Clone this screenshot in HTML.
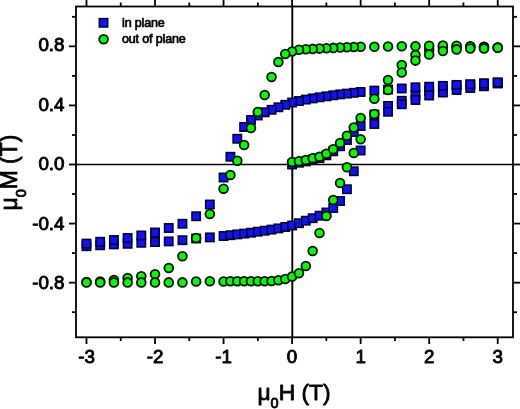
<!DOCTYPE html>
<html><head><meta charset="utf-8"><title>Hysteresis</title>
<style>
html,body{margin:0;padding:0;background:#fff;}
body{width:520px;height:409px;overflow:hidden;}
svg{display:block;font-family:"Liberation Sans",sans-serif;}
.tl text{font-size:18.8px;fill:#000;stroke:#000;stroke-width:0.9px;stroke-linejoin:round;}
.ax{font-size:22.8px;fill:#000;stroke:#000;stroke-width:0.8px;stroke-linejoin:round;}
.lg text{font-size:12.5px;fill:#000;stroke:#000;stroke-width:0.7px;stroke-linejoin:round;letter-spacing:-0.15px;}
</style></head><body>
<svg width="520" height="409" viewBox="0 0 520 409">
<rect x="0" y="0" width="520" height="409" fill="#fff"/>
<g stroke="#000" fill="none">
<line x1="76" y1="164.5" x2="513" y2="164.5" stroke-width="1.6"/>
<line x1="292.3" y1="6.5" x2="292.3" y2="337" stroke-width="1.9"/>
</g>
<g fill="#1212ee" stroke="#000030" stroke-width="1.5"><rect x="287.90" y="160.30" width="8.4" height="8.4"/><rect x="294.75" y="158.50" width="8.4" height="8.4"/><rect x="301.61" y="157.20" width="8.4" height="8.4"/><rect x="308.46" y="155.40" width="8.4" height="8.4"/><rect x="315.32" y="153.90" width="8.4" height="8.4"/><rect x="322.17" y="151.10" width="8.4" height="8.4"/><rect x="329.02" y="147.10" width="8.4" height="8.4"/><rect x="335.88" y="142.10" width="8.4" height="8.4"/><rect x="342.73" y="135.80" width="8.4" height="8.4"/><rect x="349.59" y="127.80" width="8.4" height="8.4"/><rect x="356.44" y="121.80" width="8.4" height="8.4"/><rect x="370.15" y="110.30" width="8.4" height="8.4"/><rect x="383.86" y="101.80" width="8.4" height="8.4"/><rect x="397.56" y="96.55" width="8.4" height="8.4"/><rect x="411.27" y="90.80" width="8.4" height="8.4"/><rect x="424.98" y="86.80" width="8.4" height="8.4"/><rect x="438.69" y="84.30" width="8.4" height="8.4"/><rect x="452.40" y="81.80" width="8.4" height="8.4"/><rect x="466.10" y="80.30" width="8.4" height="8.4"/><rect x="479.81" y="79.30" width="8.4" height="8.4"/><rect x="493.52" y="78.30" width="8.4" height="8.4"/><rect x="82.28" y="242.00" width="8.4" height="8.4"/><rect x="95.99" y="241.10" width="8.4" height="8.4"/><rect x="109.70" y="240.20" width="8.4" height="8.4"/><rect x="123.40" y="239.60" width="8.4" height="8.4"/><rect x="137.11" y="238.60" width="8.4" height="8.4"/><rect x="150.82" y="237.80" width="8.4" height="8.4"/><rect x="164.53" y="237.20" width="8.4" height="8.4"/><rect x="178.24" y="236.00" width="8.4" height="8.4"/><rect x="191.94" y="234.30" width="8.4" height="8.4"/><rect x="205.65" y="233.20" width="8.4" height="8.4"/><rect x="219.36" y="231.80" width="8.4" height="8.4"/><rect x="226.21" y="231.00" width="8.4" height="8.4"/><rect x="233.07" y="230.20" width="8.4" height="8.4"/><rect x="239.92" y="229.40" width="8.4" height="8.4"/><rect x="246.78" y="228.50" width="8.4" height="8.4"/><rect x="253.63" y="227.50" width="8.4" height="8.4"/><rect x="260.48" y="226.50" width="8.4" height="8.4"/><rect x="267.34" y="225.40" width="8.4" height="8.4"/><rect x="274.19" y="224.20" width="8.4" height="8.4"/><rect x="281.05" y="222.80" width="8.4" height="8.4"/><rect x="287.90" y="221.30" width="8.4" height="8.4"/><rect x="294.75" y="219.00" width="8.4" height="8.4"/><rect x="301.61" y="216.50" width="8.4" height="8.4"/><rect x="308.46" y="214.00" width="8.4" height="8.4"/><rect x="315.32" y="211.50" width="8.4" height="8.4"/><rect x="322.17" y="208.30" width="8.4" height="8.4"/><rect x="329.02" y="203.80" width="8.4" height="8.4"/><rect x="335.88" y="196.80" width="8.4" height="8.4"/><rect x="342.73" y="185.05" width="8.4" height="8.4"/><rect x="349.59" y="167.05" width="8.4" height="8.4"/><rect x="356.44" y="146.30" width="8.4" height="8.4"/><rect x="370.15" y="119.80" width="8.4" height="8.4"/><rect x="383.86" y="107.55" width="8.4" height="8.4"/><rect x="397.56" y="100.05" width="8.4" height="8.4"/><rect x="411.27" y="95.80" width="8.4" height="8.4"/><rect x="424.98" y="91.30" width="8.4" height="8.4"/><rect x="438.69" y="88.30" width="8.4" height="8.4"/><rect x="452.40" y="85.80" width="8.4" height="8.4"/><rect x="466.10" y="83.80" width="8.4" height="8.4"/><rect x="479.81" y="82.05" width="8.4" height="8.4"/><rect x="493.52" y="79.30" width="8.4" height="8.4"/><rect x="493.52" y="78.30" width="8.4" height="8.4"/><rect x="479.81" y="79.20" width="8.4" height="8.4"/><rect x="466.10" y="80.10" width="8.4" height="8.4"/><rect x="452.40" y="80.70" width="8.4" height="8.4"/><rect x="438.69" y="81.70" width="8.4" height="8.4"/><rect x="424.98" y="82.50" width="8.4" height="8.4"/><rect x="411.27" y="83.10" width="8.4" height="8.4"/><rect x="397.56" y="84.30" width="8.4" height="8.4"/><rect x="383.86" y="85.30" width="8.4" height="8.4"/><rect x="370.15" y="86.40" width="8.4" height="8.4"/><rect x="356.44" y="87.80" width="8.4" height="8.4"/><rect x="349.59" y="88.60" width="8.4" height="8.4"/><rect x="342.73" y="89.40" width="8.4" height="8.4"/><rect x="335.88" y="90.20" width="8.4" height="8.4"/><rect x="329.02" y="91.10" width="8.4" height="8.4"/><rect x="322.17" y="92.10" width="8.4" height="8.4"/><rect x="315.32" y="93.10" width="8.4" height="8.4"/><rect x="308.46" y="94.20" width="8.4" height="8.4"/><rect x="301.61" y="95.40" width="8.4" height="8.4"/><rect x="294.75" y="96.80" width="8.4" height="8.4"/><rect x="287.90" y="98.30" width="8.4" height="8.4"/><rect x="281.05" y="100.60" width="8.4" height="8.4"/><rect x="274.19" y="103.10" width="8.4" height="8.4"/><rect x="267.34" y="105.60" width="8.4" height="8.4"/><rect x="260.48" y="108.10" width="8.4" height="8.4"/><rect x="253.63" y="111.30" width="8.4" height="8.4"/><rect x="246.78" y="115.80" width="8.4" height="8.4"/><rect x="239.92" y="122.80" width="8.4" height="8.4"/><rect x="233.07" y="134.55" width="8.4" height="8.4"/><rect x="226.21" y="152.55" width="8.4" height="8.4"/><rect x="219.36" y="173.30" width="8.4" height="8.4"/><rect x="205.65" y="200.30" width="8.4" height="8.4"/><rect x="191.94" y="212.05" width="8.4" height="8.4"/><rect x="178.24" y="219.55" width="8.4" height="8.4"/><rect x="164.53" y="223.80" width="8.4" height="8.4"/><rect x="150.82" y="228.30" width="8.4" height="8.4"/><rect x="137.11" y="231.30" width="8.4" height="8.4"/><rect x="123.40" y="233.80" width="8.4" height="8.4"/><rect x="109.70" y="235.80" width="8.4" height="8.4"/><rect x="95.99" y="237.55" width="8.4" height="8.4"/><rect x="82.28" y="239.40" width="8.4" height="8.4"/></g>
<g fill="#14f014" stroke="#001800" stroke-width="1.8"><circle cx="292.10" cy="162.00" r="4.4"/><circle cx="298.95" cy="161.25" r="4.4"/><circle cx="305.81" cy="160.00" r="4.4"/><circle cx="312.66" cy="158.25" r="4.4"/><circle cx="319.52" cy="156.75" r="4.4"/><circle cx="326.37" cy="153.75" r="4.4"/><circle cx="333.22" cy="149.25" r="4.4"/><circle cx="340.08" cy="143.00" r="4.4"/><circle cx="346.93" cy="135.75" r="4.4"/><circle cx="353.79" cy="127.50" r="4.4"/><circle cx="360.64" cy="118.00" r="4.4"/><circle cx="374.35" cy="98.75" r="4.4"/><circle cx="388.06" cy="80.00" r="4.4"/><circle cx="401.76" cy="65.00" r="4.4"/><circle cx="415.47" cy="55.00" r="4.4"/><circle cx="429.18" cy="50.00" r="4.4"/><circle cx="442.89" cy="47.50" r="4.4"/><circle cx="456.60" cy="46.80" r="4.4"/><circle cx="470.30" cy="46.80" r="4.4"/><circle cx="484.01" cy="47.00" r="4.4"/><circle cx="497.72" cy="47.50" r="4.4"/><circle cx="497.72" cy="47.50" r="4.4"/><circle cx="484.01" cy="46.80" r="4.4"/><circle cx="470.30" cy="46.30" r="4.4"/><circle cx="456.60" cy="45.80" r="4.4"/><circle cx="442.89" cy="45.50" r="4.4"/><circle cx="429.18" cy="45.80" r="4.4"/><circle cx="415.47" cy="46.20" r="4.4"/><circle cx="401.76" cy="46.30" r="4.4"/><circle cx="388.06" cy="46.50" r="4.4"/><circle cx="374.35" cy="46.70" r="4.4"/><circle cx="360.64" cy="46.80" r="4.4"/><circle cx="353.79" cy="47.00" r="4.4"/><circle cx="346.93" cy="47.20" r="4.4"/><circle cx="340.08" cy="47.50" r="4.4"/><circle cx="333.22" cy="47.90" r="4.4"/><circle cx="326.37" cy="48.30" r="4.4"/><circle cx="319.52" cy="48.60" r="4.4"/><circle cx="312.66" cy="48.90" r="4.4"/><circle cx="305.81" cy="49.20" r="4.4"/><circle cx="298.95" cy="49.70" r="4.4"/><circle cx="292.10" cy="51.50" r="4.4"/><circle cx="285.25" cy="54.00" r="4.4"/><circle cx="278.39" cy="62.00" r="4.4"/><circle cx="271.54" cy="77.00" r="4.4"/><circle cx="264.68" cy="95.00" r="4.4"/><circle cx="257.83" cy="112.00" r="4.4"/><circle cx="250.98" cy="128.00" r="4.4"/><circle cx="244.12" cy="145.00" r="4.4"/><circle cx="237.27" cy="160.75" r="4.4"/><circle cx="230.41" cy="175.00" r="4.4"/><circle cx="223.56" cy="188.75" r="4.4"/><circle cx="209.85" cy="214.00" r="4.4"/><circle cx="196.14" cy="238.00" r="4.4"/><circle cx="182.44" cy="256.25" r="4.4"/><circle cx="168.73" cy="268.00" r="4.4"/><circle cx="155.02" cy="274.25" r="4.4"/><circle cx="141.31" cy="276.25" r="4.4"/><circle cx="127.60" cy="278.00" r="4.4"/><circle cx="113.90" cy="280.00" r="4.4"/><circle cx="100.19" cy="281.50" r="4.4"/><circle cx="86.48" cy="282.00" r="4.4"/><circle cx="86.48" cy="282.40" r="4.4"/><circle cx="100.19" cy="282.40" r="4.4"/><circle cx="113.90" cy="282.40" r="4.4"/><circle cx="127.60" cy="282.40" r="4.4"/><circle cx="141.31" cy="282.40" r="4.4"/><circle cx="155.02" cy="282.40" r="4.4"/><circle cx="168.73" cy="282.40" r="4.4"/><circle cx="182.44" cy="282.40" r="4.4"/><circle cx="196.14" cy="281.50" r="4.4"/><circle cx="209.85" cy="281.30" r="4.4"/><circle cx="223.56" cy="281.50" r="4.4"/><circle cx="230.41" cy="281.30" r="4.4"/><circle cx="237.27" cy="281.30" r="4.4"/><circle cx="244.12" cy="281.30" r="4.4"/><circle cx="250.98" cy="281.30" r="4.4"/><circle cx="257.83" cy="281.30" r="4.4"/><circle cx="264.68" cy="281.30" r="4.4"/><circle cx="271.54" cy="281.00" r="4.4"/><circle cx="278.39" cy="280.20" r="4.4"/><circle cx="285.25" cy="279.00" r="4.4"/><circle cx="292.10" cy="276.60" r="4.4"/><circle cx="298.95" cy="273.20" r="4.4"/><circle cx="305.81" cy="266.00" r="4.4"/><circle cx="312.66" cy="251.00" r="4.4"/><circle cx="319.52" cy="233.00" r="4.4"/><circle cx="326.37" cy="216.00" r="4.4"/><circle cx="333.22" cy="200.00" r="4.4"/><circle cx="340.08" cy="183.00" r="4.4"/><circle cx="346.93" cy="167.25" r="4.4"/><circle cx="353.79" cy="153.00" r="4.4"/><circle cx="360.64" cy="139.25" r="4.4"/><circle cx="374.35" cy="114.00" r="4.4"/><circle cx="388.06" cy="90.00" r="4.4"/><circle cx="401.76" cy="72.50" r="4.4"/><circle cx="415.47" cy="60.60" r="4.4"/><circle cx="429.18" cy="54.40" r="4.4"/><circle cx="442.89" cy="51.00" r="4.4"/><circle cx="456.60" cy="49.40" r="4.4"/><circle cx="470.30" cy="48.50" r="4.4"/><circle cx="484.01" cy="48.40" r="4.4"/><circle cx="497.72" cy="47.75" r="4.4"/></g>
<g stroke="#000" stroke-width="1.8" fill="none">
<rect x="76" y="6.5" width="437" height="330.8"/>
<line x1="86.48" y1="337" x2="86.48" y2="344"/><line x1="86.48" y1="6.5" x2="86.48" y2="0"/><line x1="155.02" y1="337" x2="155.02" y2="344"/><line x1="155.02" y1="6.5" x2="155.02" y2="0"/><line x1="223.56" y1="337" x2="223.56" y2="344"/><line x1="223.56" y1="6.5" x2="223.56" y2="0"/><line x1="292.10" y1="337" x2="292.10" y2="344"/><line x1="292.10" y1="6.5" x2="292.10" y2="0"/><line x1="360.64" y1="337" x2="360.64" y2="344"/><line x1="360.64" y1="6.5" x2="360.64" y2="0"/><line x1="429.18" y1="337" x2="429.18" y2="344"/><line x1="429.18" y1="6.5" x2="429.18" y2="0"/><line x1="497.72" y1="337" x2="497.72" y2="344"/><line x1="497.72" y1="6.5" x2="497.72" y2="0"/><line x1="120.75" y1="337" x2="120.75" y2="341"/><line x1="120.75" y1="6.5" x2="120.75" y2="2.5"/><line x1="189.29" y1="337" x2="189.29" y2="341"/><line x1="189.29" y1="6.5" x2="189.29" y2="2.5"/><line x1="257.83" y1="337" x2="257.83" y2="341"/><line x1="257.83" y1="6.5" x2="257.83" y2="2.5"/><line x1="326.37" y1="337" x2="326.37" y2="341"/><line x1="326.37" y1="6.5" x2="326.37" y2="2.5"/><line x1="394.91" y1="337" x2="394.91" y2="341"/><line x1="394.91" y1="6.5" x2="394.91" y2="2.5"/><line x1="463.45" y1="337" x2="463.45" y2="341"/><line x1="463.45" y1="6.5" x2="463.45" y2="2.5"/><line x1="76" y1="46.34" x2="69" y2="46.34"/><line x1="513" y1="46.34" x2="520" y2="46.34"/><line x1="76" y1="105.42" x2="69" y2="105.42"/><line x1="513" y1="105.42" x2="520" y2="105.42"/><line x1="76" y1="164.50" x2="69" y2="164.50"/><line x1="513" y1="164.50" x2="520" y2="164.50"/><line x1="76" y1="223.58" x2="69" y2="223.58"/><line x1="513" y1="223.58" x2="520" y2="223.58"/><line x1="76" y1="282.66" x2="69" y2="282.66"/><line x1="513" y1="282.66" x2="520" y2="282.66"/><line x1="76" y1="16.80" x2="72" y2="16.80"/><line x1="513" y1="16.80" x2="517" y2="16.80"/><line x1="76" y1="75.88" x2="72" y2="75.88"/><line x1="513" y1="75.88" x2="517" y2="75.88"/><line x1="76" y1="134.96" x2="72" y2="134.96"/><line x1="513" y1="134.96" x2="517" y2="134.96"/><line x1="76" y1="194.04" x2="72" y2="194.04"/><line x1="513" y1="194.04" x2="517" y2="194.04"/><line x1="76" y1="253.12" x2="72" y2="253.12"/><line x1="513" y1="253.12" x2="517" y2="253.12"/><line x1="76" y1="312.20" x2="72" y2="312.20"/><line x1="513" y1="312.20" x2="517" y2="312.20"/>
</g>
<g class="lg">
<rect x="99.3" y="18.6" width="8.4" height="8.4" fill="#1212ee" stroke="#000030" stroke-width="1.5"/>
<circle cx="103.6" cy="39.2" r="4.4" fill="#14f014" stroke="#001800" stroke-width="1.8"/>
<text x="122" y="27.2">in plane</text>
<text x="122" y="42.8">out of plane</text>
</g>
<g class="tl"><text x="86.48" y="363" text-anchor="middle">-3</text><text x="155.02" y="363" text-anchor="middle">-2</text><text x="223.56" y="363" text-anchor="middle">-1</text><text x="292.10" y="363" text-anchor="middle">0</text><text x="360.64" y="363" text-anchor="middle">1</text><text x="429.18" y="363" text-anchor="middle">2</text><text x="497.72" y="363" text-anchor="middle">3</text><text x="64.5" y="51.44" text-anchor="end">0.8</text><text x="64.5" y="110.89" text-anchor="end">0.4</text><text x="64.5" y="170.35" text-anchor="end">0.0</text><text x="64.5" y="229.80" text-anchor="end">-0.4</text><text x="64.5" y="289.26" text-anchor="end">-0.8</text></g>
<text class="ax" x="294" y="399.6" text-anchor="middle">μ<tspan font-size="14.5" dy="8.6">0</tspan><tspan dy="-8.6">H (T)</tspan></text>
<text class="ax" style="font-size:22.9px" transform="translate(17.4,172.6) rotate(-90) scale(1,1.07)" text-anchor="middle">μ<tspan font-size="14.5" dy="8">0</tspan><tspan dy="-8">M (T)</tspan></text>
</svg>
</body></html>
